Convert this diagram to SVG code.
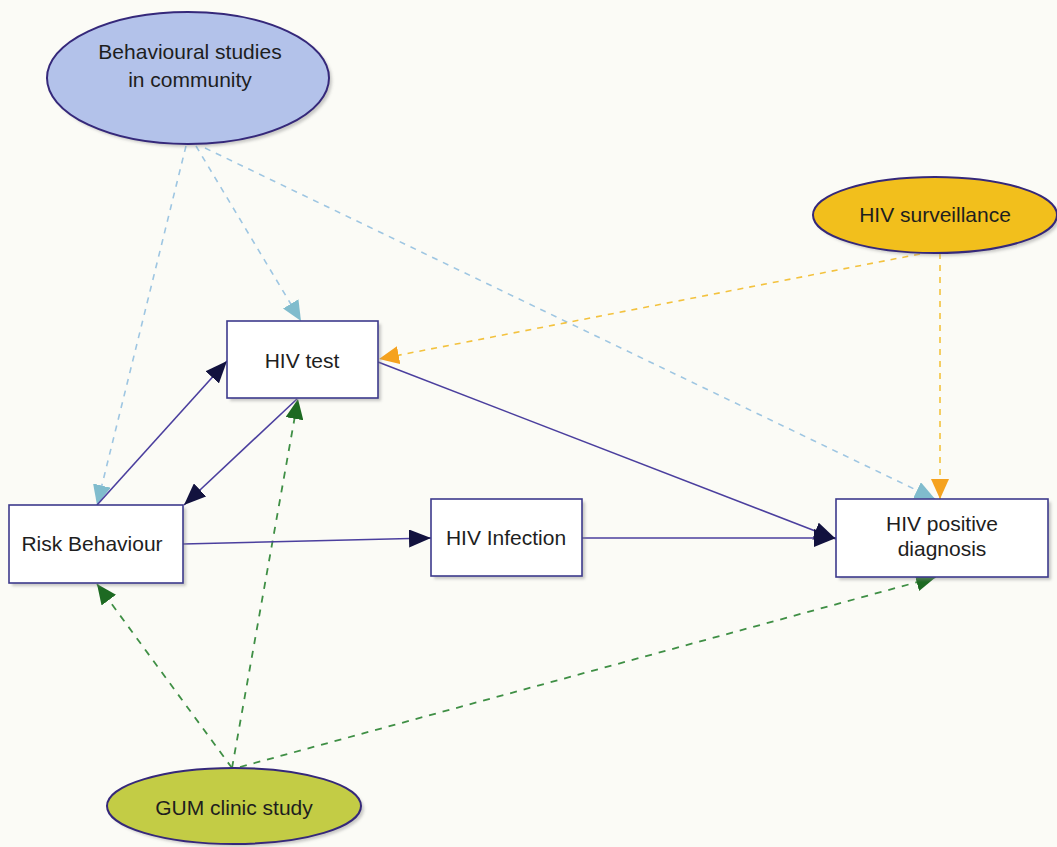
<svg xmlns="http://www.w3.org/2000/svg" width="1057" height="847" viewBox="0 0 1057 847">
  <defs>
    <style>
      .lbl { font-family: "Liberation Sans", Arial, sans-serif; font-size: 21px; fill: #1e1e1e; text-anchor: middle; }
      .box { fill: #ffffff; stroke: #3d3a8c; stroke-width: 1.6; }
      .shadow { fill: #8a8a8a; opacity: 0.45; filter: url(#soft); }
      .oval { stroke: #35287a; stroke-width: 2; }
      .solid { fill: none; stroke: #4b3f9e; stroke-width: 1.6; marker-end: url(#arrNavy); }
      .blue { fill: none; stroke: #9ec6e2; stroke-width: 1.6; stroke-dasharray: 6 6; marker-end: url(#arrBlue); }
      .orange { fill: none; stroke: #f3c23e; stroke-width: 1.6; stroke-dasharray: 6 6; marker-end: url(#arrOrange); }
      .green { fill: none; stroke: #3f8f45; stroke-width: 1.8; stroke-dasharray: 7 7; marker-end: url(#arrGreen); }
    </style>
    <filter id="soft" x="-10%" y="-10%" width="120%" height="120%">
      <feGaussianBlur stdDeviation="1.5"/>
    </filter>
    <marker id="arrNavy" markerUnits="userSpaceOnUse" markerWidth="24" markerHeight="18" refX="22" refY="9" orient="auto">
      <path d="M0,0 L22,9 L0,18 z" fill="#12123e"/>
    </marker>
    <marker id="arrBlue" markerUnits="userSpaceOnUse" markerWidth="22" markerHeight="18" refX="20" refY="9" orient="auto">
      <path d="M0,0 L20,9 L0,18 z" fill="#80bccd"/>
    </marker>
    <marker id="arrOrange" markerUnits="userSpaceOnUse" markerWidth="22" markerHeight="18" refX="20" refY="9" orient="auto">
      <path d="M0,0 L20,9 L0,18 z" fill="#f5a21f"/>
    </marker>
    <marker id="arrGreen" markerUnits="userSpaceOnUse" markerWidth="22" markerHeight="18" refX="20" refY="9" orient="auto">
      <path d="M0,0 L20,9 L0,18 z" fill="#1d6a22"/>
    </marker>
  </defs>

  <rect x="0" y="0" width="1057" height="847" fill="#fbfbf6"/>

  <!-- connectors -->
  <g id="connectors">
    <!-- from Behavioural studies in community -->
    <line class="blue" x1="186" y1="146" x2="97" y2="505"/>
    <line class="blue" x1="196" y1="146" x2="301" y2="321"/>
    <line class="blue" x1="205" y1="148" x2="935" y2="499"/>
    <!-- from HIV surveillance -->
    <line class="orange" x1="920" y1="254" x2="379" y2="359"/>
    <line class="orange" x1="940" y1="253" x2="940" y2="499"/>
    <!-- from GUM clinic study -->
    <line class="green" x1="232" y1="768" x2="97" y2="584"/>
    <line class="green" x1="232" y1="768" x2="298" y2="399"/>
    <line class="green" x1="240" y1="767" x2="936" y2="577"/>
    <!-- causal pathway -->
    <line class="solid" x1="97" y1="505" x2="227" y2="361"/>
    <line class="solid" x1="297" y1="399" x2="184" y2="505"/>
    <line class="solid" x1="183" y1="544" x2="431" y2="538"/>
    <line class="solid" x1="378" y1="362" x2="836" y2="539"/>
    <line class="solid" x1="582" y1="538" x2="836" y2="538"/>
  </g>

  <g id="behavioural-studies">
    <ellipse cx="191" cy="81" rx="141" ry="66" class="shadow"/>
    <ellipse cx="188" cy="78" rx="141" ry="66" fill="#b3c2ea" class="oval"/>
    <text x="190" y="59" class="lbl">Behavioural studies</text>
    <text x="190" y="87" class="lbl">in community</text>
  </g>

  <g id="hiv-surveillance">
    <ellipse cx="938" cy="218" rx="122" ry="38" class="shadow"/>
    <ellipse cx="935" cy="215" rx="122" ry="38" fill="#f2bf1c" class="oval"/>
    <text x="935" y="222" class="lbl">HIV surveillance</text>
  </g>

  <g id="hiv-test">
    <rect x="230" y="324" width="151" height="77" class="shadow"/>
    <rect x="227" y="321" width="151" height="77" class="box"/>
    <text x="302" y="368" class="lbl">HIV test</text>
  </g>

  <g id="risk-behaviour">
    <rect x="12" y="508" width="174" height="78" class="shadow"/>
    <rect x="9" y="505" width="174" height="78" class="box"/>
    <text x="92" y="551" class="lbl">Risk Behaviour</text>
  </g>

  <g id="hiv-infection">
    <rect x="434" y="502" width="151" height="77" class="shadow"/>
    <rect x="431" y="499" width="151" height="77" class="box"/>
    <text x="506" y="545" class="lbl">HIV Infection</text>
  </g>

  <g id="hiv-positive-diagnosis">
    <rect x="839" y="502" width="212" height="78" class="shadow"/>
    <rect x="836" y="499" width="212" height="78" class="box"/>
    <text x="942" y="531" class="lbl">HIV positive</text>
    <text x="942" y="556" class="lbl">diagnosis</text>
  </g>

  <g id="gum-clinic-study">
    <ellipse cx="237" cy="809" rx="127" ry="38" class="shadow"/>
    <ellipse cx="234" cy="806" rx="127" ry="38" fill="#c3cc45" class="oval"/>
    <text x="234" y="815" class="lbl">GUM clinic study</text>
  </g>
</svg>
